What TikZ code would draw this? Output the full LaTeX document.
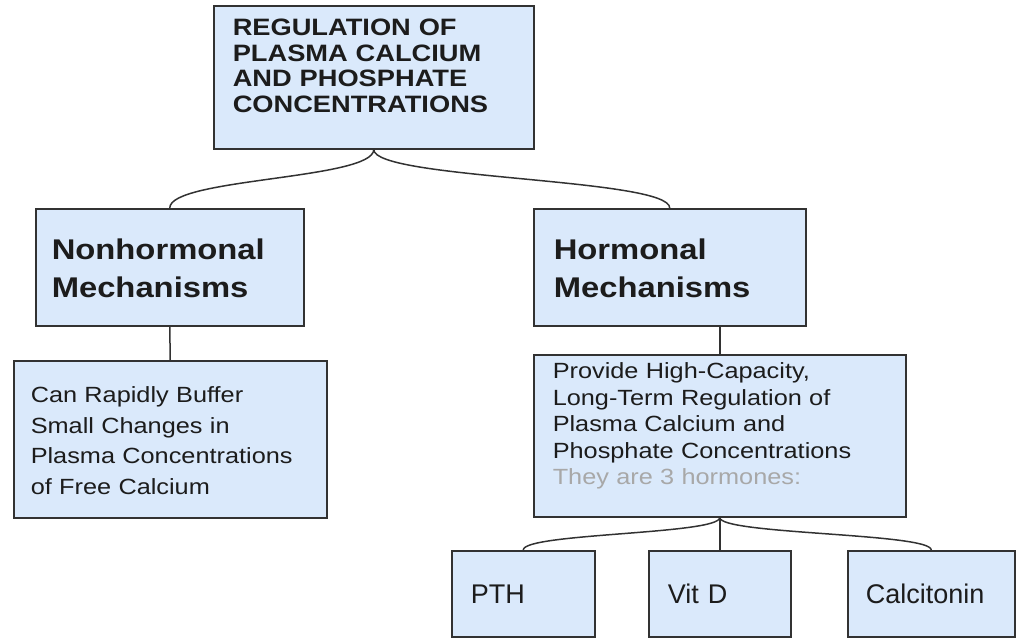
\documentclass[tikz,border=0pt]{standalone}
\usepackage{fontspec}
\setmainfont{Liberation Sans}[FakeStretch=1.15]
\newfontfamily\hormonefont{Liberation Sans}
\definecolor{plasmaBlue}{RGB}{218, 233, 251}
\definecolor{plasmaBorder}{RGB}{50, 50, 50}
\definecolor{plasmaText}{RGB}{28, 28, 28}
\definecolor{plasmaGrey}{RGB}{168, 168, 168}

\begin{document}
\begin{tikzpicture}[
  x=1pt,y=-1pt,
  conceptbox/.style={
    draw=plasmaBorder,
    line width=1.5pt,
    fill=plasmaBlue,
    anchor=north west,
    align=left,
    inner ysep=0pt,
    text=plasmaText
  },
  boxsize/.style n args={4}{
    text width=#1,
    inner xsep=#2,
    text height=#3,
    text depth=#4
  },
  titlebox/.style={conceptbox,font=\fontsize{23.7}{25.5}\selectfont\bfseries},
  branchbox/.style={conceptbox,font=\fontsize{28.5}{38}\selectfont\bfseries},
  detailbox/.style={conceptbox,font=\fontsize{22}{#1}\selectfont},
  hormonebox/.style={conceptbox,font=\hormonefont\fontsize{27}{32}\selectfont},
  connector/.style={draw=plasmaBorder,line width=1.5pt}
]
  \useasboundingbox (0,0) rectangle (1023,638);

  \node[titlebox,boxsize={282pt}{19pt}{30pt}{113pt}] (regulation) at (213,5)
    {REGULATION OF\\PLASMA CALCIUM\\AND PHOSPHATE\\CONCENTRATIONS};
  \node[branchbox,boxsize={236pt}{16pt}{51pt}{66pt}] (nonhormonal) at (35,208)
    {Nonhormonal\\Mechanisms};
  \node[branchbox,boxsize={232pt}{20pt}{51pt}{66pt}] (hormonal) at (533,208)
    {Hormonal\\Mechanisms};
  \node[detailbox=30.5pt,boxsize={279pt}{17pt}{42pt}{115pt}] (buffer) at (13,360)
    {Can Rapidly Buffer\\Small Changes in\\Plasma Concentrations\\of Free Calcium};
  \node[detailbox=26.5pt,boxsize={334pt}{19pt}{24pt}{138pt}] (longterm) at (533,354)
    {Provide High-Capacity,\\Long-Term Regulation of\\Plasma Calcium and\\Phosphate Concentrations\\
     {\color{plasmaGrey}They are 3 hormones:}};
  \node[hormonebox,boxsize={105pt}{19pt}{53pt}{33pt}] (pth) at (451,550) {PTH};
  \node[hormonebox,boxsize={104pt}{19pt}{53pt}{33pt}] (vitd) at (648,550) {Vit D};
  \node[hormonebox,boxsize={131pt}{18pt}{53pt}{33pt}] (calcitonin) at (847,550) {Calcitonin};

  \draw[connector] (regulation.south) .. controls +(0,30) and +(0,-30) .. (nonhormonal.north);
  \draw[connector] (regulation.south) .. controls +(0,30) and +(0,-30) .. (hormonal.north);
  \draw[connector] (nonhormonal.south) -- (buffer.north);
  \draw[connector] (longterm.north) -- (longterm.north |- hormonal.south);
  \draw[connector] (longterm.south) .. controls +(0,17) and +(0,-17) .. (pth.north);
  \draw[connector] (longterm.south) -- (vitd.north);
  \draw[connector] (longterm.south) .. controls +(0,17) and +(0,-17) .. (calcitonin.north);
\end{tikzpicture}
\end{document}
